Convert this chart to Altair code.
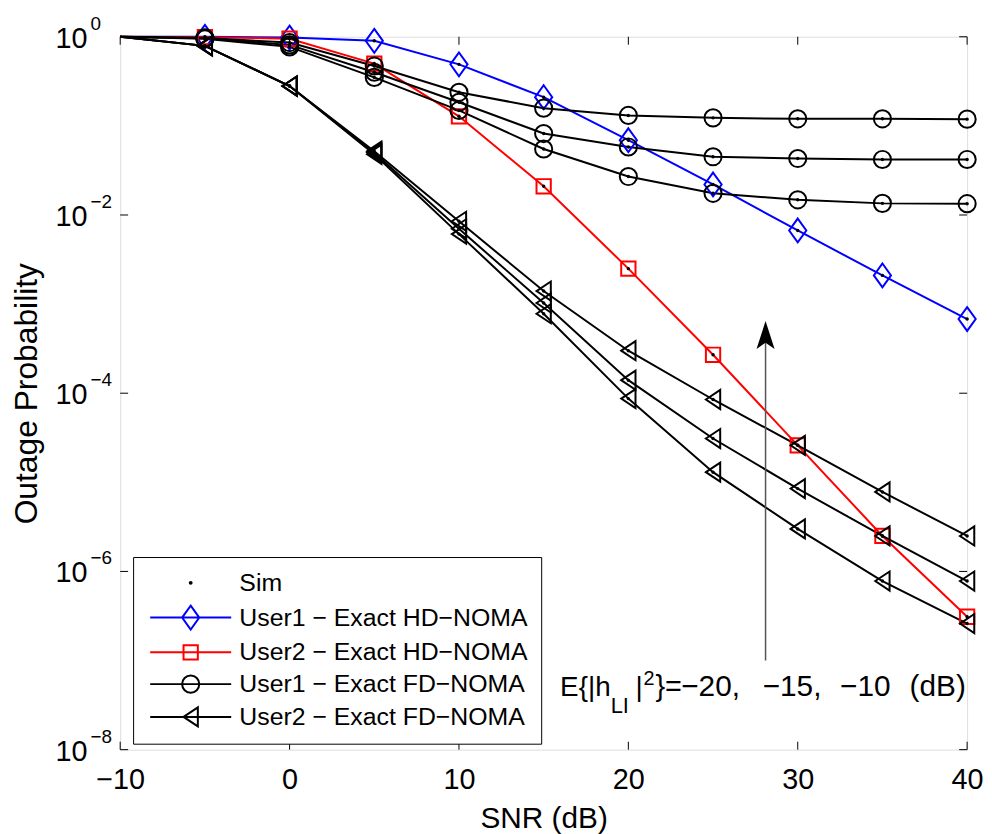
import altair as alt
import pandas as pd

# ---------------- data ----------------
snr = [-10, -5, 0, 5, 10, 15, 20, 25, 30, 35, 40]

u1_hd = [1.0, 1.0, 0.98, 0.90, 0.49, 0.21, 0.069, 0.022, 0.0067, 0.0021, 0.00068]
u2_hd = [1.0, 0.99, 0.95, 0.50, 0.128, 0.021, 0.0025, 0.00027, 2.6e-5, 2.5e-6, 3.1e-7]

u1_fd_m10 = [1.0, 0.97, 0.86, 0.47, 0.238, 0.158, 0.131, 0.123, 0.120, 0.120, 0.119]
u1_fd_m15 = [1.0, 0.96, 0.81, 0.40, 0.184, 0.082, 0.058, 0.045, 0.043, 0.042, 0.042]
u1_fd_m20 = [1.0, 0.95, 0.77, 0.35, 0.149, 0.055, 0.027, 0.0175, 0.0148, 0.0135, 0.0134]

u2_fd_m10 = [1.0, 0.79, 0.28, 0.052, 0.0085, 1.4e-3, 3.0e-4, 8.5e-5, 2.6e-5, 7.8e-6, 2.5e-6]
u2_fd_m15 = [1.0, 0.79, 0.28, 0.050, 0.0070, 1.03e-3, 1.4e-4, 3.1e-5, 8.5e-6, 2.5e-6, 7.8e-7]
u2_fd_m20 = [1.0, 0.79, 0.28, 0.048, 0.0061, 7.8e-4, 8.7e-5, 1.3e-5, 3.0e-6, 7.8e-7, 2.6e-7]

x_ticks = [-10, 0, 10, 20, 30, 40]
y_ticks = [1, 1e-2, 1e-4, 1e-6, 1e-8]
y_tick_exps = ["0", "\u22122", "\u22124", "\u22126", "\u22128"]

legend_labels = [
    "Sim",
    "User1 \u2212 Exact HD\u2212NOMA",
    "User2 \u2212 Exact HD\u2212NOMA",
    "User1 \u2212 Exact FD\u2212NOMA",
    "User2 \u2212 Exact FD\u2212NOMA",
]

arrow_x = [28.1]
arrow_bottom = [1.0e-7]
arrow_top = [3.7e-4]
arrow_head = [4.5e-4]

ann_pos_x = [15.97]
ann_pos_y = [4.0e-8]
ann_pieces = ["E{|h", "LI", "|", "2", "}=", "\u221220,", "\u221215,", "\u221210", "(dB)"]

# ---------------- styling ----------------
FONT = "Liberation Sans"
BLUE, RED, BLACK = "#0000ff", "#ff0000", "#000000"
W, H = 853, 718
MS = 576  # marker size -> r = 12px

DIAMOND = "M0,-1L0.72,0L0,1L-0.72,0Z"
SQUARE = "M-0.6,-0.6L0.6,-0.6L0.6,0.6L-0.6,0.6Z"
CIRCLE = "M-0.72,0A0.72,0.72,0,1,0,0.72,0A0.72,0.72,0,1,0,-0.72,0Z"
TRI_L = "M-0.6,0L0.6,-0.8L0.6,0.8Z"
DOT = "M-0.08,0A0.08,0.08,0,1,0,0.08,0A0.08,0.08,0,1,0,-0.08,0Z"
LINE = "M-3.4,0L3.4,0"
ARROWHEAD = "M0,-1L0.65,1L0,0.55L-0.65,1Z"

legend_paths = [DOT, LINE + DIAMOND, LINE + SQUARE, LINE + CIRCLE, LINE + TRI_L]
legend_colors = [BLACK, BLUE, RED, BLACK, BLACK]

# ---------------- tables ----------------
rows = []
def add(kind, curve, vals):
    for s, v in zip(snr, vals):
        rows.append({"kind": kind, "curve": curve, "snr": s, "p": v})

add("u1hd", "u1hd", u1_hd)
add("u2hd", "u2hd", u2_hd)
add("u1fd", "u1fd10", u1_fd_m10)
add("u1fd", "u1fd15", u1_fd_m15)
add("u1fd", "u1fd20", u1_fd_m20)
add("u2fd", "u2fd10", u2_fd_m10)
add("u2fd", "u2fd15", u2_fd_m15)
add("u2fd", "u2fd20", u2_fd_m20)
df = pd.DataFrame(rows)
mk = df[df["snr"] >= -5]

YSCALE = alt.Scale(type="log", domain=[1e-8, 1], nice=False)

X = alt.X(
    "snr:Q",
    scale=alt.Scale(domain=[-10, 40], nice=False, zero=False),
    axis=alt.Axis(
        values=x_ticks, labelExpr="replace(datum.label, '-', '\u2212')",
        labelFont=FONT, labelFontSize=29, labelColor=BLACK, labelPadding=16,
        labelFlush=False, ticks=False, domain=False, grid=False,
        title="SNR (dB)", titleFont=FONT, titleFontSize=30, titleFontWeight="normal",
        titleColor=BLACK, titlePadding=9,
    ),
)
Y = alt.Y(
    "p:Q",
    scale=YSCALE,
    axis=alt.Axis(
        labels=False, ticks=False, domain=False, grid=False,
        title="Outage Probability", titleFont=FONT, titleFontSize=32,
        titleFontWeight="normal", titleColor=BLACK, titlePadding=77,
    ),
)

layers = []
styles = [("u1hd", BLUE, DIAMOND), ("u2hd", RED, SQUARE), ("u1fd", BLACK, CIRCLE), ("u2fd", BLACK, TRI_L)]
for kind, col, shp in styles:
    layers.append(
        alt.Chart(df[df["kind"] == kind]).mark_line(color=col, strokeWidth=2).encode(
            x=X, y=Y, detail="curve:N", order="snr:Q")
    )
for kind, col, shp in styles:
    layers.append(
        alt.Chart(mk[mk["kind"] == kind]).mark_point(
            shape=shp, size=MS, filled=False, color=col, strokeWidth=2, opacity=1
        ).encode(x=X, y=Y)
    )
# simulation dots
layers.append(
    alt.Chart(mk).mark_circle(size=12, color=BLACK, opacity=1).encode(x=X, y=Y)
)

# inward ticks on all four sides
xt = pd.DataFrame({"snr": x_ticks})
yt = pd.DataFrame({"p": y_ticks})
layers.append(alt.Chart(xt).mark_rule(color=BLACK, strokeWidth=1).encode(
    x=X, y=alt.value(H), y2=alt.value(H - 8)))
layers.append(alt.Chart(xt).mark_rule(color=BLACK, strokeWidth=1).encode(
    x=X, y=alt.value(0), y2=alt.value(8)))
layers.append(alt.Chart(yt).mark_rule(color=BLACK, strokeWidth=1).encode(
    y=Y, x=alt.value(0), x2=alt.value(8)))
layers.append(alt.Chart(yt).mark_rule(color=BLACK, strokeWidth=1).encode(
    y=Y, x=alt.value(W), x2=alt.value(W - 8)))

# y tick labels 10^k
ytl = pd.DataFrame({"p": y_ticks, "base": ["10"] * len(y_ticks), "exp": y_tick_exps})
layers.append(alt.Chart(ytl).mark_text(
    font=FONT, fontSize=29, align="right", baseline="middle", dy=2, color=BLACK
).encode(y=Y, x=alt.value(-33), text="base:N"))
layers.append(alt.Chart(ytl).mark_text(
    font=FONT, fontSize=19, align="left", baseline="middle", dy=-13, color=BLACK
).encode(y=Y, x=alt.value(-30), text="exp:N"))

# arrow
arr = pd.DataFrame({"snr": arrow_x, "p": arrow_bottom, "p2": arrow_top, "ph": arrow_head})
layers.append(alt.Chart(arr).mark_rule(color="#555555", strokeWidth=1.5).encode(
    x=X, y=Y, y2="p2:Q"))
layers.append(alt.Chart(arr).mark_point(
    shape=ARROWHEAD, size=784, filled=True, color=BLACK, opacity=1, strokeWidth=0
).encode(x=X, y=alt.Y("ph:Q", scale=YSCALE)))

# annotation text
ann = pd.DataFrame({"snr": ann_pos_x, "p": ann_pos_y})
piece_dx = [0, 51, 76, 84, 96, 122, 204, 282, 352]
piece_dy = [0, 17, 0, -11, 0, 0, 0, 0, 0]
piece_fs = [28, 22, 28, 20, 29, 30, 30, 30, 30]
for t, dx, dy, fs in zip(ann_pieces, piece_dx, piece_dy, piece_fs):
    layers.append(alt.Chart(ann).mark_text(
        text=t, font=FONT, fontSize=fs, align="left", baseline="alphabetic",
        dx=dx, dy=dy, color=BLACK
    ).encode(x=X, y=Y))

# legend carrier (points outside the domain, clipped)
leg = pd.DataFrame({"series": legend_labels, "snr": [-100] * 5, "p": [0.5] * 5})
leg_cfg = dict(
    title=None, orient="none", legendX=13, legendY=524,
    labelFont=FONT, labelFontSize=25, labelColor=BLACK,
    symbolSize=MS, symbolStrokeWidth=2, symbolOffset=32, labelOffset=36,
    rowPadding=6, padding=13, strokeColor=BLACK, fillColor="white",
    labelLimit=400,
)
layers.append(alt.Chart(leg).mark_point(
    filled=False, size=MS, strokeWidth=2, opacity=1, clip=True
).encode(
    x=X, y=Y,
    color=alt.Color("series:N", scale=alt.Scale(domain=legend_labels, range=legend_colors),
                    legend=alt.Legend(**leg_cfg)),
    shape=alt.Shape("series:N", scale=alt.Scale(domain=legend_labels, range=legend_paths),
                    legend=alt.Legend(**leg_cfg)),
))

chart = alt.layer(*layers).properties(
    width=W, height=H,
    padding={"left": 113, "top": 26, "right": 17, "bottom": 84},
    autosize=alt.AutoSizeParams(type="none"),
    background="white",
).configure_view(stroke=BLACK, strokeWidth=1.5).configure(font=FONT)

chart.save("out.html", embed_options={"renderer": "svg", "actions": False})
